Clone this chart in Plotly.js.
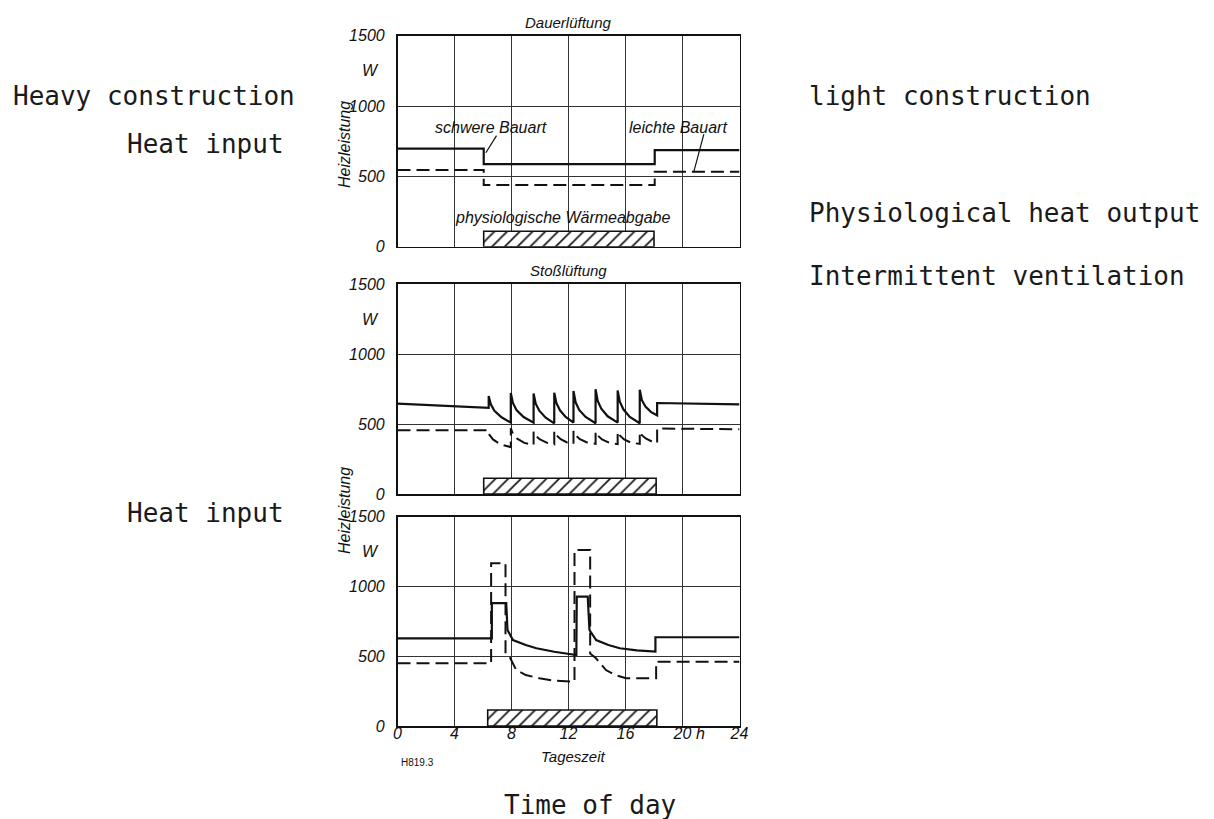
<!DOCTYPE html>
<html>
<head>
<meta charset="utf-8">
<script src="https://cdn.plot.ly/plotly-3.0.1.min.js"></script>
<style>html,body{margin:0;padding:0;background:#fff;}#chart{width:1214px;height:819px;}</style>
</head>
<body>
<div id="chart"></div>
<script>
// ---------- data ----------
const hourTicks = [0, 4, 8, 12, 16, 20, 24];
const powerTicks = [0, 500, 1000, 1500];
const panelTitles = ['Dauerlüftung', 'Stoßlüftung', ''];

// Dauerlüftung (continuous ventilation)
const dauerHeavyX = [0, 6.05, 6.05, 18.05, 18.05, 24];
const dauerHeavyY = [697, 697, 587, 587, 686, 686];
const dauerLightX = [0, 6.05, 6.05, 18.05, 18.05, 24];
const dauerLightY = [546, 546, 438, 438, 533, 533];

// Stoßlüftung (intermittent ventilation)
const stossHeavyX = [0, 6.4, 6.4, 6.55, 6.8, 7.3, 7.95, 7.95, 8.1, 8.35, 8.85, 9.55, 9.55, 9.7, 9.95, 10.4, 11.0, 11.0, 11.15, 11.4, 11.8, 12.35, 12.35, 12.5, 12.75, 13.2, 13.9, 13.9, 14.05, 14.3, 14.75, 15.45, 15.45, 15.6, 15.85, 16.3, 17.0, 17.0, 17.15, 17.4, 17.8, 18.22, 18.22, 24];
const stossHeavyY = [645, 615, 700, 640, 595, 548, 510, 722, 650, 600, 550, 510, 718, 645, 595, 545, 505, 724, 650, 598, 550, 510, 736, 655, 600, 550, 505, 748, 665, 610, 555, 510, 740, 660, 605, 550, 505, 745, 670, 625, 585, 562, 650, 640];
const stossLightX = [0, 6.4, 6.4, 6.7, 7.2, 7.95, 7.95, 8.1, 8.4, 8.9, 9.55, 9.55, 9.7, 10.0, 10.5, 11.0, 11.0, 11.15, 11.45, 11.9, 12.35, 12.35, 12.5, 12.8, 13.3, 13.9, 13.9, 14.05, 14.35, 14.85, 15.45, 15.45, 15.6, 15.9, 16.4, 17.0, 17.0, 17.15, 17.45, 17.85, 18.22, 18.22, 24];
const stossLightY = [455, 455, 430, 390, 355, 335, 470, 430, 395, 365, 350, 445, 415, 390, 365, 355, 450, 420, 392, 368, 358, 450, 420, 392, 368, 358, 445, 418, 390, 366, 356, 445, 418, 390, 366, 358, 445, 420, 395, 375, 365, 468, 462];

// third panel (two heating boosts)
const boostHeavyX = [0, 6.62, 6.62, 7.63, 7.72, 8.1, 9.0, 9.75, 11.0, 12.07, 12.55, 12.58, 13.35, 13.47, 13.94, 14.8, 15.6, 16.8, 18.1, 18.1, 24];
const boostHeavyY = [628, 628, 880, 880, 688, 616, 580, 557, 532, 516, 509, 927, 927, 688, 616, 580, 557, 542, 533, 636, 636];
const boostLightX = [0, 6.57, 6.57, 7.58, 7.58, 7.86, 8.33, 9.0, 9.96, 11.0, 12.42, 12.42, 13.52, 13.52, 13.93, 14.63, 15.3, 16.04, 18.15, 18.15, 24];
const boostLightY = [449, 449, 1166, 1166, 520, 497, 401, 365, 342, 325, 318, 1261, 1261, 520, 485, 401, 365, 342, 342, 461, 461];

// physiological heat output (hatched bar) per panel
const physStart = [6.05, 6.05, 6.33];
const physEnd = [18.0, 18.15, 18.2];
const physValue = [110, 112, 115];

// ---------- helpers ----------
const W = 1214, H = 819;
const px = v => v / W;
const py = v => 1 - v / H;
const ink = '#111';
const sans = 'Liberation Sans, Arial, sans-serif';
const italic = {family: sans, size: 16, color: ink, style: 'italic'};
const small = {family: sans, size: 15, color: ink, style: 'italic'};
const label = {family: sans, size: 16, color: ink, style: 'italic'};
const mono = {family: 'DejaVu Sans Mono, monospace', size: 26, color: '#1a1a1a'};

const panelsY = [[35.7, 246.7], [284, 494], [516.7, 726]];
const xDom = [px(397.5), px(739.5)];

const series = [
  [dauerHeavyX, dauerHeavyY, dauerLightX, dauerLightY],
  [stossHeavyX, stossHeavyY, stossLightX, stossLightY],
  [boostHeavyX, boostHeavyY, boostLightX, boostLightY]
];

const traces = [];
const layout = {
  width: W, height: H,
  margin: {l: 0, r: 0, t: 0, b: 0},
  paper_bgcolor: '#fff', plot_bgcolor: '#fff',
  showlegend: false,
  annotations: [], shapes: []
};

function note(o) {
  layout.annotations.push(Object.assign({showarrow: false, xanchor: 'center', yanchor: 'middle', font: small}, o));
}

series.forEach((s, i) => {
  const n = i === 0 ? '' : String(i + 1);
  const xa = 'x' + n, ya = 'y' + n;
  traces.push({
    type: 'bar', x: [(physStart[i] + physEnd[i]) / 2], y: [physValue[i]], width: [physEnd[i] - physStart[i]],
    base: 0, xaxis: xa, yaxis: ya, hoverinfo: 'skip',
    marker: {color: '#fff', line: {color: ink, width: 1.6},
      pattern: {shape: '/', fgcolor: ink, bgcolor: '#fff', size: 9, solidity: 0.18}}
  });
  traces.push({type: 'scatter', mode: 'lines', x: s[0], y: s[1], xaxis: xa, yaxis: ya,
    line: {color: ink, width: 2.2}});
  traces.push({type: 'scatter', mode: 'lines', x: s[2], y: s[3], xaxis: xa, yaxis: ya,
    line: {color: ink, width: 2.0, dash: '13px,6px'}});

  layout['xaxis' + n] = {
    domain: xDom, anchor: ya, range: [0, 24], tickvals: hourTicks,
    showticklabels: i === 2, ticks: '', tickfont: italic, ticklabelstandoff: i === 2 ? -8 : 0,
    showgrid: true, gridcolor: '#333', gridwidth: 1,
    showline: true, mirror: true, linecolor: ink, linewidth: 1.6, zeroline: false, fixedrange: true
  };
  layout['yaxis' + n] = {
    domain: [py(panelsY[i][1]), py(panelsY[i][0])], anchor: xa, range: [0, 1500],
    tickvals: powerTicks, ticks: '', tickfont: italic, ticklabelstandoff: 8,
    showgrid: true, gridcolor: '#333', gridwidth: 1,
    showline: true, mirror: true, linecolor: ink, linewidth: 1.6, zeroline: false, fixedrange: true
  };
  // unit "W"
  note({xref: 'paper', yref: ya, x: px(370), y: 1250, text: 'W', font: italic});
  if (panelTitles[i]) {
    note({xref: xa, yref: 'paper', x: 12, y: py(panelsY[i][0] - 13), text: panelTitles[i]});
  }
});

note({xref: 'x', yref: 'y', x: 6.55, y: 846, text: 'schwere Bauart', font: label});
note({xref: 'x', yref: 'y', x: 19.7, y: 846, text: 'leichte Bauart', font: label});
note({xref: 'x', yref: 'y', x: 11.6, y: 204, text: 'physiologische Wärmeabgabe', font: label});
note({xref: 'x3', yref: 'paper', x: 21.25, y: py(733), text: 'h', font: italic});
note({xref: 'x3', yref: 'paper', x: 12.35, y: py(756), text: 'Tageszeit'});
note({xref: 'paper', yref: 'paper', x: px(417.5), y: py(762), text: 'H819.3',
  font: {family: sans, size: 10, color: ink}});
note({xref: 'paper', yref: 'paper', x: px(344), y: py(145), text: 'Heizleistung', textangle: -90, font: label});
note({xref: 'paper', yref: 'paper', x: px(344), y: py(511), text: 'Heizleistung', textangle: -90, font: label});

// English side notes
const notes = [
  ['Heavy construction', 11, 96, 'left'],
  ['Heat input', 125, 144, 'left'],
  ['light construction', 807, 96, 'left'],
  ['Physiological heat output', 807, 213, 'left'],
  ['Intermittent ventilation', 807, 276, 'left'],
  ['Heat input', 125, 513, 'left'],
  ['Time of day', 590, 805, 'center']
];
notes.forEach(n => note({xref: 'paper', yref: 'paper', x: px(n[1]), y: py(n[2]), text: n[0],
  font: mono, xanchor: n[3]}));

// leader lines to the labels
layout.shapes.push({type: 'line', xref: 'x', yref: 'y', x0: 6.95, y0: 790, x1: 6.2, y1: 668, line: {color: ink, width: 1.2}});
layout.shapes.push({type: 'line', xref: 'x', yref: 'y', x0: 21.5, y0: 800, x1: 20.8, y1: 536, line: {color: ink, width: 1.2}});

Plotly.newPlot('chart', traces, layout, {staticPlot: true, displayModeBar: false});
</script>
</body>
</html>
